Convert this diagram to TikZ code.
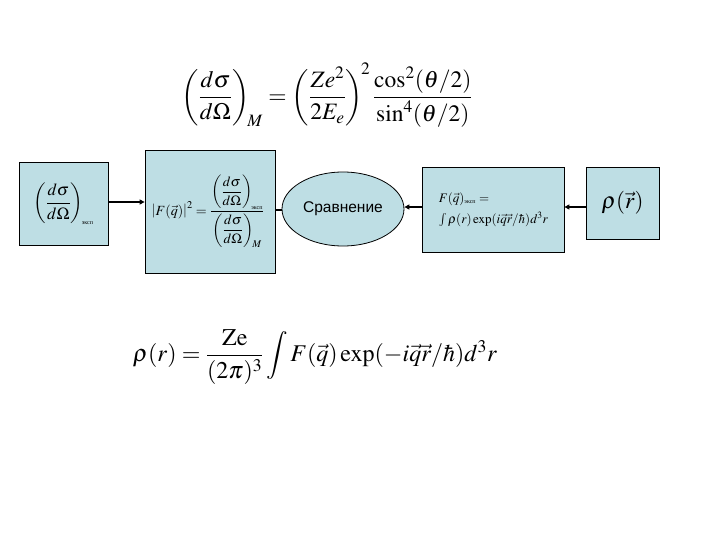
\documentclass[tikz,border=0pt]{standalone}
\usepackage{amsmath}
\usepackage{mathptmx}
\usepackage[no-math]{fontspec}
\setmainfont{Liberation Serif}
\newfontfamily\sansru{Liberation Sans}
\usetikzlibrary{shapes.geometric,arrows.meta}
\definecolor{boxfill}{RGB}{190,222,228}
\tikzset{
  px/.style={x=1pt,y=-1pt},
  blk/.style={draw=black,line width=0.8pt,fill=boxfill,inner sep=0pt},
  conn/.style={draw=black,line width=1.2pt},
  arr/.style={conn,-{Triangle[length=5pt,width=5pt]}}
}
\begin{document}
\begin{tikzpicture}[px]
\useasboundingbox (0,0) rectangle (720,540);
% top formula
\node (top) at (327,95) {\fontsize{23.5}{28}\selectfont $\displaystyle \left(\frac{d\sigma}{d\Omega}\right)_{\!M} = \left(\frac{Ze^2}{2E_e}\right)^{\!2}\frac{\cos^2(\theta/2)}{\sin^4(\theta/2)}$};
% boxes
\node[blk,minimum width=89pt,minimum height=83pt] (b1) at (63.5,203.5) {};
\node at (b1.center) {\fontsize{17}{20}\selectfont $\displaystyle \left(\frac{d\sigma}{d\Omega}\right)_{\!\text{\fontsize{6}{7}\selectfont эксп}}$};
\node[blk,minimum width=130pt,minimum height=123pt] (b2) at (210,211.5) {};
\node at ([xshift=-2pt]b2.center) {\fontsize{14}{17}\selectfont $\displaystyle \left|F(\vec q)\right|^2 = \frac{\left(\dfrac{d\sigma}{d\Omega}\right)_{\!\text{\fontsize{6}{7}\selectfont эксп}}}{\left(\dfrac{d\sigma}{d\Omega}\right)_{\!M}}$};
\node[blk,ellipse,minimum width=122pt,minimum height=74pt] (ell) at (343,209) {\sansru\fontsize{15.5}{18}\selectfont Сравнение};
\node[blk,minimum width=142pt,minimum height=85pt] (b3) at (493,209.5) {};
\node[align=left,anchor=west,inner sep=0pt] at ([xshift=17pt]b3.west) {\fontsize{13}{17}\selectfont $F(\vec q)_{\text{\fontsize{6}{7}\selectfont эксп}} =$\\[6pt] \fontsize{13}{17}\selectfont $\int \rho(r)\exp(i\vec q\vec r/\hbar)d^3r$};
\node[blk,minimum width=73pt,minimum height=72pt] (b4) at (622.5,203) {\fontsize{23}{27}\selectfont $\rho(\vec r)$};
% connectors
\draw[arr] (b1.east |- 0,202) -- (b2.west |- 0,202);
\draw[conn] (b2.east |- 0,210) -- (ell.west |- 0,210);
\draw[arr] (b3.west |- 0,207) -- (ell.east |- 0,207);
\draw[arr] (b4.west |- 0,207) -- (b3.east |- 0,207);
% bottom formula
\node (bot) at (315,357) {\fontsize{24}{28}\selectfont $\displaystyle \rho(r) = \frac{\mathrm{Ze}}{(2\pi)^3}\int F(\vec q)\exp(-i\vec q\vec r/\hbar)d^3r$};
\end{tikzpicture}
\end{document}
